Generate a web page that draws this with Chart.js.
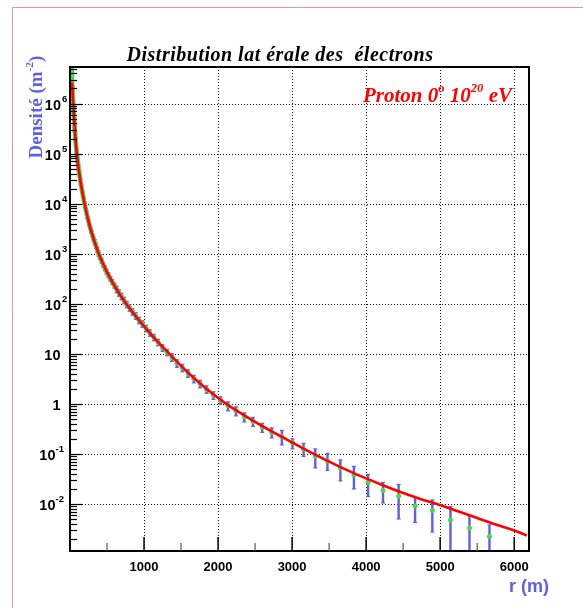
<!DOCTYPE html>
<html>
<head>
<meta charset="utf-8">
<title>Distribution latérale des électrons</title>
<script src="https://cdn.jsdelivr.net/npm/chart.js@4.4.1/dist/chart.umd.min.js"></script>
<style>
  html, body { margin: 0; padding: 0; background: #fff; }
  canvas { display: block; }
</style>
</head>
<body>
<canvas id="ldf" width="583" height="608"></canvas>
<script>
// Distances au coeur de gerbe (m), bins logarithmiques
const rayons = [
    5666, 5396, 5139, 4894, 4661, 4439, 4228, 4026, 3835, 3652,
    3478, 3313, 3155, 3005, 2862, 2725, 2596, 2472, 2354, 2242,
    2135, 2034, 1937, 1845, 1757, 1673, 1594, 1518, 1445, 1377,
    1311, 1249, 1189, 1132, 1078, 1027, 978, 932, 887, 845,
    805, 767, 730, 695, 662, 631, 601, 572, 545, 519,
    494, 471, 448, 427, 407, 387, 369, 351, 334, 318,
    303, 289, 275, 262, 250, 238, 226, 216, 205, 196,
    186, 177, 169, 161, 153, 146, 139, 132, 126, 120,
    114, 109, 104, 99, 94, 90, 85, 81, 78, 74,
    70, 67, 64, 61, 58, 55, 52, 50, 48, 45,
    43, 41, 39, 37, 35, 34, 32, 30, 29, 27,
    26, 25, 24, 22.7, 21.6, 20.6, 19.6
];

// log10 de la densité mesurée (m^-2)
const logDensite = [
    -2.65, -2.48, -2.32, -2.13, -2.04, -1.84, -1.73, -1.57, -1.42, -1.28,
    -1.14, -1.05, -0.90, -0.77, -0.65, -0.57, -0.47, -0.35, -0.26, -0.14,
    -0.04, 0.07, 0.17, 0.29, 0.40, 0.50, 0.61, 0.72, 0.81, 0.93,
    1.03, 1.12, 1.23, 1.33, 1.42, 1.51, 1.60, 1.67, 1.76, 1.84,
    1.92, 1.99, 2.07, 2.15, 2.22, 2.29, 2.36, 2.43, 2.50, 2.57,
    2.64, 2.71, 2.78, 2.86, 2.93, 3.00, 3.08, 3.16, 3.23, 3.30,
    3.37, 3.44, 3.51, 3.58, 3.65, 3.72, 3.80, 3.87, 3.94, 4.01,
    4.08, 4.15, 4.22, 4.28, 4.35, 4.40, 4.48, 4.55, 4.61, 4.66,
    4.73, 4.79, 4.85, 4.91, 4.97, 5.02, 5.09, 5.16, 5.22, 5.30,
    5.38, 5.44, 5.50, 5.56, 5.63, 5.71, 5.78, 5.84, 5.89, 5.95,
    6.00, 6.04, 6.08, 6.13, 6.18, 6.21, 6.26, 6.32, 6.35, 6.41,
    6.46, 6.51, 6.56, 6.62, 6.68, 6.74, 6.80
];

// barres d'erreur, en décades au-dessus / au-dessous du point
const errHaut = [
    0.23, 0.24, 0.27, 0.21, 0.17, 0.23, 0.16, 0.16, 0.17, 0.16,
    0.15, 0.15, 0.11, 0.07, 0.12, 0.09, 0.08, 0.08, 0.08, 0.08,
    0.08, 0.07, 0.07, 0.07, 0.07, 0.07, 0.07, 0.07, 0.07, 0.07,
    0.06, 0.06, 0.06, 0.06, 0.06, 0.06, 0.06, 0.06, 0.06, 0.06,
    0.06, 0.06, 0.06, 0.06, 0.06, 0.06, 0.05, 0.05, 0.05, 0.05,
    0.05, 0.05, 0.05, 0.05, 0.05, 0.05, 0.05, 0.05, 0.05, 0.05,
    0.03, 0.03, 0.03, 0.03, 0.03, 0.03, 0.03, 0.03, 0.03, 0.03,
    0.03, 0.03, 0.03, 0.03, 0.03, 0.03, 0.03, 0.03, 0.03, 0.03,
    0.03, 0.03, 0.03, 0.03, 0.03, 0.03, 0.03, 0.03, 0.03, 0.03,
    0.03, 0.03, 0.03, 0.03, 0.03, 0.03, 0.03, 0.03, 0.03, 0.03,
    0.03, 0.03, 0.03, 0.03, 0.03, 0.03, 0.03, 0.03, 0.03, 0.03,
    0.03, 0.03, 0.03, 0.03, 0.03, 0.03, 0.03
];
const errBas = [
    2, 2, 2, 0.43, 0.33, 0.46, 0.25, 0.28, 0.28, 0.26,
    0.19, 0.23, 0.15, 0.13, 0.17, 0.11, 0.10, 0.10, 0.10, 0.10,
    0.10, 0.08, 0.08, 0.08, 0.08, 0.08, 0.08, 0.08, 0.08, 0.08,
    0.07, 0.07, 0.07, 0.07, 0.07, 0.07, 0.07, 0.07, 0.07, 0.07,
    0.07, 0.07, 0.07, 0.07, 0.07, 0.07, 0.05, 0.05, 0.05, 0.05,
    0.05, 0.05, 0.05, 0.05, 0.05, 0.05, 0.05, 0.05, 0.05, 0.05,
    0.03, 0.03, 0.03, 0.03, 0.03, 0.03, 0.03, 0.03, 0.03, 0.03,
    0.03, 0.03, 0.03, 0.03, 0.03, 0.03, 0.03, 0.03, 0.03, 0.03,
    0.03, 0.03, 0.03, 0.03, 0.03, 0.03, 0.03, 0.03, 0.03, 0.03,
    0.03, 0.03, 0.03, 0.03, 0.03, 0.03, 0.03, 0.03, 0.03, 0.03,
    0.03, 0.03, 0.03, 0.03, 0.03, 0.03, 0.03, 0.03, 0.03, 0.03,
    0.03, 0.03, 0.03, 0.03, 0.03, 0.03, 0.03
];

// Fonction ajustée (courbe rouge)
const rFit = [27, 35, 45, 60, 75, 90, 120, 150, 198, 250, 300, 388, 450, 500, 550, 600, 675, 750, 825, 900,
    1000, 1100, 1200, 1330, 1500, 1700, 1900, 2100, 2300, 2500, 2700, 2900, 3100, 3266, 3500, 3750,
    4000, 4250, 4500, 4750, 4955, 5250, 5500, 5750, 6000, 6170];
const logFit = [6.42, 6.2, 5.95, 5.6, 5.28, 5.02, 4.655, 4.37, 3.99, 3.65, 3.38, 3.0, 2.79, 2.63, 2.49, 2.36, 2.18, 2.02, 1.87, 1.73,
    1.55, 1.38, 1.22, 1.02, 0.76, 0.48, 0.23, 0.01, -0.18, -0.36, -0.53, -0.69, -0.85, -0.98, -1.155, -1.33,
    -1.49, -1.64, -1.78, -1.91, -2.0, -2.15, -2.28, -2.41, -2.53, -2.63];

// Graduations
const xTicks = [1000, 2000, 3000, 4000, 5000, 6000];
const xMinorTicks = [500, 1500, 2500, 3500, 4500, 5500];
const yDecades = [-2, -1, 0, 1, 2, 3, 4, 5, 6];

const BLEU = '#5f5fe0';
const SERIF = '"Liberation Serif", "Times New Roman", serif';
const SANS = '"Liberation Sans", Arial, Helvetica, sans-serif';

function trait(ctx, x1, y1, x2, y2) {
    ctx.beginPath();
    ctx.moveTo(x1, y1);
    ctx.lineTo(x2, y2);
    ctx.stroke();
}

// Texte avec exposants : morceaux [texte, exposant?]
function texteExposant(ctx, morceaux, x, y, taille, style, famille) {
    let cx = x;
    morceaux.forEach(([t, sup]) => {
        ctx.font = style + ' ' + (sup ? taille * 0.6 : taille) + 'px ' + famille;
        ctx.fillText(t, cx, sup ? y - taille * 0.45 : y);
        cx += ctx.measureText(t).width;
    });
    return cx;
}

const cadre = {
    id: 'cadre',
    beforeDraw(chart) {
        const ctx = chart.ctx;
        ctx.save();
        ctx.fillStyle = '#fff';
        ctx.fillRect(0, 0, chart.width, chart.height);
        // bordure rose
        ctx.strokeStyle = '#dd9c9c';
        ctx.lineWidth = 1;
        ctx.beginPath();
        ctx.moveTo(12.5, chart.height);
        ctx.lineTo(12.5, 7.5);
        ctx.lineTo(chart.width, 7.5);
        ctx.stroke();
        ctx.restore();
    },
    beforeDatasetsDraw(chart) {
        const { ctx, chartArea: a, scales: { x, y } } = chart;
        ctx.save();
        ctx.beginPath();
        ctx.rect(a.left, a.top, a.right - a.left, a.bottom - a.top);
        ctx.clip();

        // grille pointillée
        ctx.strokeStyle = '#111';
        ctx.lineWidth = 1;
        ctx.setLineDash([1, 2]);
        xTicks.forEach(v => {
            const px = Math.round(x.getPixelForValue(v)) + 0.5;
            trait(ctx, px, a.bottom, px, a.top);
        });
        yDecades.forEach(e => {
            const py = Math.round(y.getPixelForValue(Math.pow(10, e))) + 0.5;
            trait(ctx, a.left, py, a.right, py);
        });
        ctx.setLineDash([]);

        // barres d'erreur
        ctx.strokeStyle = BLEU;
        rayons.forEach((r, i) => {
            const px = x.getPixelForValue(r);
            const yh = y.getPixelForValue(Math.pow(10, logDensite[i] + errHaut[i]));
            const yb = y.getPixelForValue(Math.pow(10, logDensite[i] - errBas[i]));
            ctx.lineWidth = 2.4;
            trait(ctx, px, yb, px, yh);
            ctx.lineWidth = 1.2;
            trait(ctx, px - 2, yh, px + 2, yh);
            trait(ctx, px - 2, yb, px + 2, yb);
        });
        ctx.restore();
    },
    afterDraw(chart) {
        const { ctx, chartArea: a, scales: { x, y } } = chart;
        ctx.save();

        // cadre
        ctx.strokeStyle = '#000';
        ctx.lineWidth = 2;
        ctx.strokeRect(a.left, a.top, a.right - a.left, a.bottom - a.top);

        // graduations x (vers l'intérieur)
        ctx.lineWidth = 1.5;
        xTicks.forEach(v => {
            const px = x.getPixelForValue(v);
            trait(ctx, px, a.bottom, px, a.bottom - 14);
        });
        ctx.strokeStyle = '#555';
        ctx.lineWidth = 1.2;
        xMinorTicks.forEach(v => {
            const px = x.getPixelForValue(v);
            trait(ctx, px, a.bottom, px, a.bottom - 8);
        });

        // graduations y (log)
        ctx.strokeStyle = '#000';
        ctx.lineWidth = 1.2;
        for (let e = -3; e <= 6; e++) {
            for (let m = 1; m <= 9; m++) {
                const v = m * Math.pow(10, e);
                if (v < y.min || v > y.max) continue;
                const py = Math.round(y.getPixelForValue(v)) + 0.5;
                trait(ctx, a.left, py, a.left + (m === 1 ? 12 : 7), py);
            }
        }

        // étiquettes x
        ctx.fillStyle = '#000';
        ctx.font = 'bold 13px ' + SANS;
        ctx.textAlign = 'center';
        ctx.textBaseline = 'alphabetic';
        xTicks.forEach(v => {
            ctx.fillText(String(v), x.getPixelForValue(v), 570.5);
        });

        // étiquettes y : 10^n
        yDecades.forEach(e => {
            const py = y.getPixelForValue(Math.pow(10, e));
            ctx.textAlign = 'right';
            ctx.font = 'bold 14.5px ' + SANS;
            if (e === 0 || e === 1) {
                ctx.fillText(e === 0 ? '1' : '10', 60.5, py + 6.5);
                return;
            }
            const droite = e < 0 ? 55.5 : 61;
            ctx.fillText('10', droite, py + 6.5);
            ctx.textAlign = 'left';
            ctx.font = 'bold 9.5px ' + SANS;
            ctx.fillText(String(e), droite + (e < 0 ? 0 : 1), py - 1.5);
        });

        // titre
        ctx.textAlign = 'left';
        ctx.font = 'bold italic 20px ' + SERIF;
        ctx.letterSpacing = '0.5px';
        const titre = 'Distribution lat érale des  électrons';
        ctx.fillText(titre, 280 - ctx.measureText(titre).width / 2, 61);
        ctx.letterSpacing = '0px';

        // légende de la simulation
        ctx.fillStyle = '#ff0000';
        texteExposant(ctx, [['Proton 0', false], ['o', true], [' 10', false], ['20', true], [' eV', false]],
            363, 101.5, 21, 'bold italic', SERIF);

        // titre de l'axe y
        ctx.fillStyle = BLEU;
        ctx.translate(41.5, 158.5);
        ctx.rotate(-Math.PI / 2);
        texteExposant(ctx, [['Densité (m', false], ['-2', true], [')', false]], 0, 0, 19, 'bold', SERIF);
        ctx.setTransform(1, 0, 0, 1, 0, 0);

        // titre de l'axe x
        ctx.font = 'bold 18px ' + SANS;
        ctx.fillText('r (m)', 509, 592);
        ctx.restore();
    }
};

new Chart(document.getElementById('ldf'), {
    type: 'scatter',
    data: {
        datasets: [{
            type: 'line',
            label: 'Ajustement',
            data: rFit.map((r, i) => ({ x: r, y: Math.pow(10, logFit[i]) })),
            borderColor: '#ff0000',
            borderWidth: 2.6,
            pointRadius: 0,
            cubicInterpolationMode: 'monotone',
            clip: 0
        }, {
            label: 'Densité mesurée',
            data: rayons.map((r, i) => ({ x: r, y: Math.pow(10, logDensite[i]) })),
            pointRadius: 2.5,
            pointBackgroundColor: '#52d452',
            pointBorderWidth: 0,
            clip: 0
        }]
    },
    options: {
        responsive: false,
        animation: false,
        devicePixelRatio: 1,
        layout: { padding: { left: 70, top: 67, right: 54, bottom: 57 } },
        plugins: {
            legend: { display: false },
            tooltip: { enabled: false },
            title: { display: false }
        },
        scales: {
            x: { type: 'linear', display: false, min: 0, max: 6200 },
            y: { type: 'logarithmic', display: false, min: Math.pow(10, -2.94), max: Math.pow(10, 6.73) }
        }
    },
    plugins: [cadre]
});
</script>
</body>
</html>
